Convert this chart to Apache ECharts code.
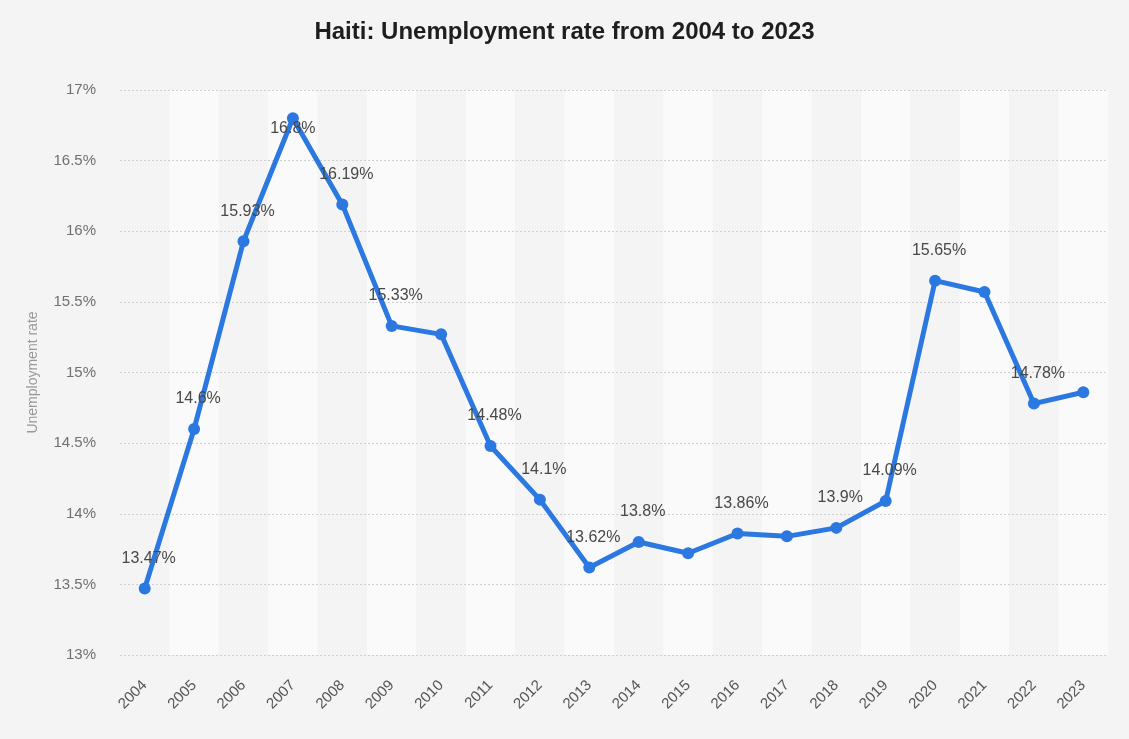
<!DOCTYPE html>
<html>
<head>
<meta charset="utf-8">
<script src="https://cdn.jsdelivr.net/npm/echarts@6/dist/echarts.min.js"></script>
<style>
html,body{margin:0;padding:0;background:#f4f4f4;}
#c{width:1129px;height:739px;}
</style>
</head>
<body>
<div id="c"></div>
<script>
const years = ['2004','2005','2006','2007','2008','2009','2010','2011','2012','2013','2014','2015','2016','2017','2018','2019','2020','2021','2022','2023'];
const unemploymentRate = [13.47,14.6,15.93,16.8,16.19,15.33,15.27,14.48,14.1,13.62,13.8,13.72,13.86,13.84,13.9,14.09,15.65,15.57,14.78,14.86];
const yTicks = [13,13.5,14,14.5,15,15.5,16,16.5,17];
const labeledYears = ['2004','2005','2006','2007','2008','2009','2011','2012','2013','2014','2016','2018','2019','2020','2022'];

const FONT = 'Liberation Sans, Arial, sans-serif';
const chart = echarts.init(document.getElementById('c'));
const seriesData = unemploymentRate.map((v, i) => {
  const item = { value: v };
  const show = labeledYears.indexOf(years[i]) >= 0;
  item.label = { show: show };
  if (years[i] === '2007') item.label.offset = [0, 40];
  return item;
});

chart.setOption({
  backgroundColor: '#f4f4f4',
  animation: false,
  title: {
    text: 'Haiti: Unemployment rate from 2004 to 2023',
    left: 'center',
    top: 15,
    textStyle: { fontFamily: FONT, fontSize: 24, fontWeight: 'bold', color: '#1e1e1e' }
  },
  grid: { left: 120, right: 21, top: 90, bottom: 84 },
  xAxis: {
    type: 'category',
    z: 0,
    data: years,
    boundaryGap: true,
    axisLine: { show: false },
    axisTick: { show: false },
    axisLabel: { rotate: 45, margin: 28, color: '#555', fontSize: 15, fontFamily: FONT },
    splitArea: { show: true, areaStyle: { color: ['#f4f4f4', '#fafafa'] } },
    splitLine: { show: false }
  },
  yAxis: {
    type: 'value',
    z: 2,
    min: yTicks[0],
    max: yTicks[yTicks.length - 1],
    interval: 0.5,
    name: 'Unemployment rate',
    nameLocation: 'middle',
    nameGap: 80,
    nameTextStyle: { color: '#999', fontSize: 14, fontFamily: FONT },
    axisLine: { show: false },
    axisTick: { show: false },
    axisLabel: { formatter: v => v + '%', color: '#707070', fontSize: 15, margin: 24, fontFamily: FONT },
    splitLine: { show: true, lineStyle: { color: '#cfcfcf', type: [2, 2], width: 1 } }
  },
  series: [{
    type: 'line',
    z: 5,
    data: seriesData,
    symbol: 'circle',
    symbolSize: 12,
    lineStyle: { color: '#2a78e0', width: 5 },
    itemStyle: { color: '#2a78e0' },
    label: {
      position: 'top',
      distance: 16,
      offset: [4, 0],
      formatter: p => p.value + '%',
      color: '#484848',
      fontSize: 16,
      fontFamily: FONT
    }
  }]
});
</script>
</body>
</html>
